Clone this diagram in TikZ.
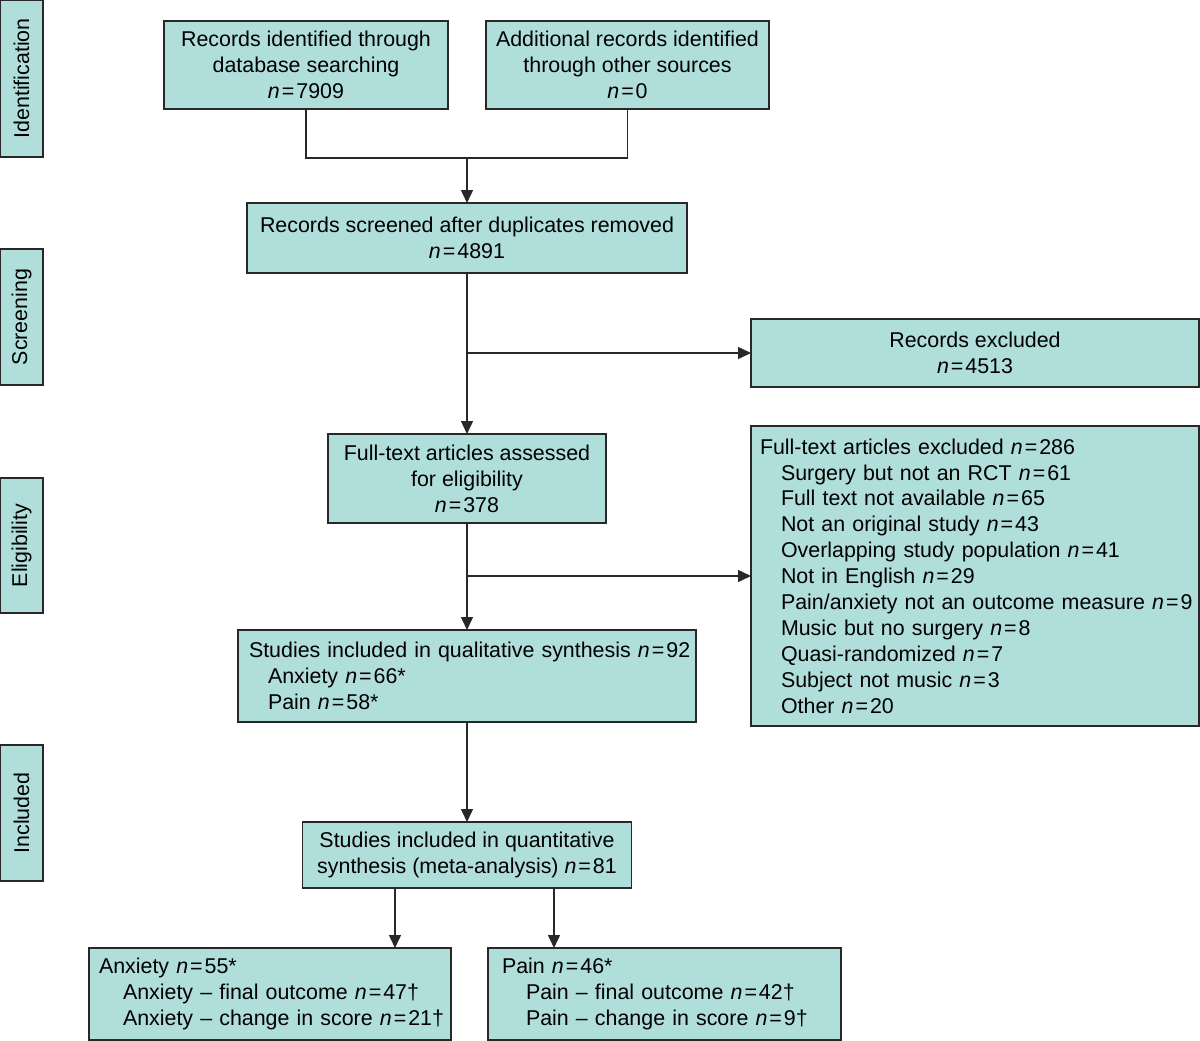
\documentclass[tikz,border=0pt]{standalone}
\usepackage{fontspec}
\setmainfont{Liberation Sans}
\usetikzlibrary{arrows.meta}
\definecolor{boxfill}{RGB}{176,222,219}
\definecolor{boxline}{RGB}{40,40,40}
\newcommand{\nv}[1]{\textit{n}\kern2pt=\kern2pt#1}
\newcommand{\li}[2][0pt]{\mbox{\hspace*{#1}#2}}
\begin{document}
\begin{tikzpicture}[x=1pt,y=-1pt,
  font=\fontsize{21.4}{25.9}\selectfont,
  box/.style={draw=boxline, fill=boxfill, line width=1.5pt, inner sep=0pt, outer sep=0pt, align=center},
  lbox/.style={box, align=left},
  side/.style={box, rotate=90, minimum height=43pt},
  arr/.style={line width=1.5pt, draw=boxline, -{Triangle[length=13pt,width=12pt]}},
  ln/.style={line width=1.5pt, draw=boxline}]
\useasboundingbox (0,0) rectangle (1200,1041);
\fill[white] (0,0) rectangle (1200,1041);

% side labels
\node[side, minimum width=157pt] (sid) at (21.5,78.5) {Identification};
\node[side, minimum width=136pt] (sscr) at (21.5,317) {Screening};
\node[side, minimum width=135pt] (sel) at (21.5,545.5) {Eligibility};
\node[side, minimum width=136pt] (sinc) at (21.5,813) {Included};

% main boxes
\node[box, minimum width=284pt, minimum height=88pt] (id1) at (306,65)
  {Records identified through\\database searching\\\nv{7909}};
\node[box, minimum width=283pt, minimum height=88pt] (id2) at (627.5,65)
  {Additional records identified\\through other sources\\\nv{0}};
\node[box, minimum width=440pt, minimum height=70pt] (screen) at (467,238)
  {Records screened after duplicates removed\\\nv{4891}};
\node[box, minimum width=448pt, minimum height=68pt] (excl) at (975,353)
  {Records excluded\\\nv{4513}};
\node[box, minimum width=278pt, minimum height=89pt] (full) at (467,478.5)
  {Full-text articles assessed\\for eligibility\\\nv{378}};
\node[lbox, text width=436pt, inner xsep=11pt, minimum height=92pt] (qual) at (467,676)
  {\li{Studies included in qualitative synthesis \nv{92}}\\
   \li[19pt]{Anxiety \nv{66*}}\\
   \li[19pt]{Pain \nv{58*}}};
\node[lbox, text width=430pt, inner xsep=9pt, minimum height=300pt] (fullexcl) at (975,576)
  {\li{Full-text articles excluded \nv{286}}\\
   \li[21pt]{Surgery but not an RCT \nv{61}}\\
   \li[21pt]{Full text not available \nv{65}}\\
   \li[21pt]{Not an original study \nv{43}}\\
   \li[21pt]{Overlapping study population \nv{41}}\\
   \li[21pt]{Not in English \nv{29}}\\
   \li[21pt]{Pain/anxiety not an outcome measure \nv{9}}\\
   \li[21pt]{Music but no surgery \nv{8}}\\
   \li[21pt]{Quasi-randomized \nv{7}}\\
   \li[21pt]{Subject not music \nv{3}}\\
   \li[21pt]{Other \nv{20}}};
\node[box, minimum width=329pt, minimum height=66pt] (quant) at (467,855)
  {Studies included in quantitative\\synthesis (meta-analysis) \nv{81}};
\node[lbox, text width=342pt, inner xsep=10pt, minimum height=92pt] (anx) at (270,994)
  {\li{Anxiety \nv{55*}}\\
   \li[24pt]{Anxiety -- final outcome \nv{47†}}\\
   \li[24pt]{Anxiety -- change in score \nv{21†}}};
\node[lbox, text width=325pt, inner xsep=14pt, minimum height=92pt] (pain) at (664.5,994)
  {\li{Pain \nv{46*}}\\
   \li[24pt]{Pain -- final outcome \nv{42†}}\\
   \li[24pt]{Pain -- change in score \nv{9†}}};

% connectors
\coordinate (j) at (467,158);
\draw[ln] (id1.south) |- (j) -| (id2.south);
\draw[arr] (j) -- (screen.north);
\draw[arr] (screen.south) -- (full.north);
\draw[arr] (screen.south |- excl.west) -- (excl.west);
\draw[arr] (full.south) -- (qual.north);
\draw[arr] (full.south |- fullexcl.west) -- (fullexcl.west);
\draw[arr] (qual.south) -- (quant.north);
\coordinate (a1) at (395,0);
\coordinate (a2) at (554,0);
\draw[arr] (quant.south -| a1) -- (anx.north -| a1);
\draw[arr] (quant.south -| a2) -- (pain.north -| a2);
\end{tikzpicture}
\end{document}
